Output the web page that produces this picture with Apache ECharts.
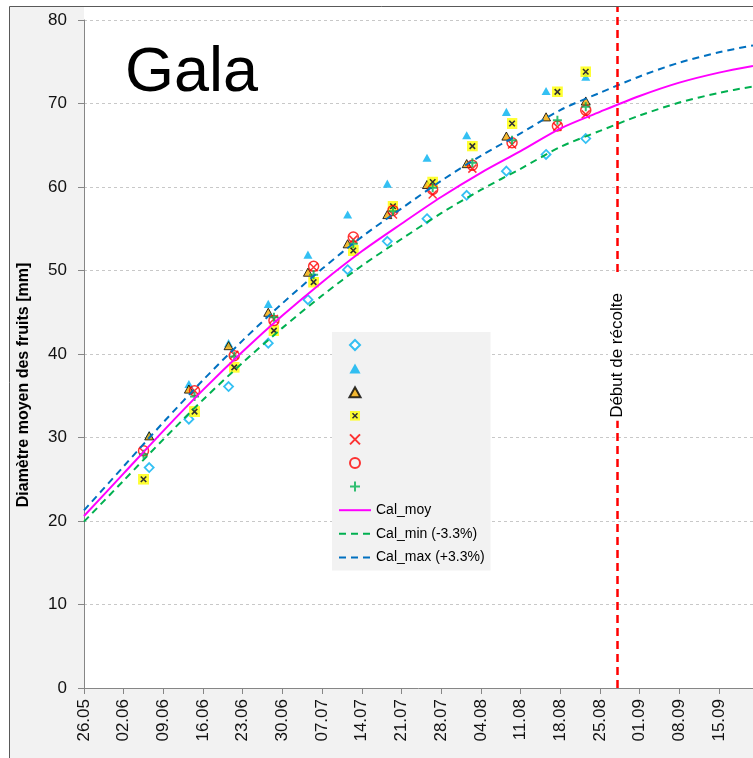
<!DOCTYPE html>
<html><head><meta charset="utf-8">
<script src="https://cdn.jsdelivr.net/npm/echarts@6/dist/echarts.min.js"></script>
<style>html,body{margin:0;padding:0;background:#fff}#c{width:753px;height:758px}</style>
</head><body><div id="c"></div>
<script>
// ---- data ----
const startDate = '26.05';
const axisEndDay = 118;           // 21.09
const harvestDate = '28.08';
const harvestLabel = 'Début de récolte';
const yAxisTitle = 'Diamètre moyen des fruits [mm]';
const chartTitle = 'Gala';

const datesA = ['06.06','13.06','20.06','27.06','04.07','11.07','18.07','25.07','01.08','08.08','15.08','22.08'];
const datesB = ['05.06','14.06','21.06','28.06','05.07','12.07','19.07','26.07','02.08','09.08','17.08','22.08'];

const s1 = [26.4, 32.2, 36.1, 41.3, 46.5, 50.1, 53.5, 56.2, 59.0, 61.9, 63.9, 65.8]; // cyan diamond (A)
const s2 = [30.3, 36.4, 41.3, 46.0, 51.9, 56.7, 60.4, 63.5, 66.2, 69.0, 71.5, 73.2]; // cyan triangle (A)
const s3 = [30.2, 35.8, 41.0, 45.0, 49.8, 53.2, 56.7, 60.3, 62.8, 66.1, 68.4, 70.3]; // orange triangle (A)
const s4 = [25.0, 33.1, 38.4, 42.8, 48.6, 52.4, 57.7, 60.6, 64.9, 67.6, 71.4, 73.8]; // yellow square x (B)
const s5 = [28.3, 35.6, 39.9, 44.2, 50.4, 53.7, 56.7, 59.1, 62.2, 65.1, 67.2, 68.7]; // red x (B)
const s6 = [28.4, 35.6, 39.8, 44.0, 50.5, 54.0, 57.2, 59.7, 62.6, 65.3, 67.3, 69.2]; // red circle (B)
const s7 = [28.0, 34.9, 39.7, 44.4, 49.5, 53.2, 57.1, 59.9, 62.9, 65.6, 68.0, 69.6]; // green plus (B)

const calDays = [0, 7, 14, 21, 28, 35, 42, 49, 56, 63, 70, 77, 84, 91, 98, 105, 112, 118];
const calMoy = [20.6, 25.7, 30.8, 35.7, 40.3, 44.6, 48.6, 52.3, 55.6, 58.8, 61.7, 64.3, 67.0, 69.0, 70.9, 72.5, 73.7, 74.5];
const calMin = [19.92, 24.85, 29.78, 34.52, 38.97, 43.13, 47.00, 50.57, 53.77, 56.86, 59.66, 62.18, 64.79, 66.72, 68.56, 70.11, 71.27, 72.04];
const calMax = [21.28, 26.55, 31.82, 36.88, 41.63, 46.07, 50.20, 54.03, 57.43, 60.74, 63.74, 66.42, 69.21, 71.28, 73.24, 74.89, 76.13, 76.96];

const lineNames = ['Cal_moy', 'Cal_min (-3.3%)', 'Cal_max (+3.3%)'];
const yTicks = [0, 80, 10];

// ---- helpers ----
const YEAR = 2021;
function toUTC(s){ const [d,m] = s.split('.').map(Number); return Date.UTC(YEAR, m-1, d); }
const t0 = toUTC(startDate);
function dayOf(s){ return Math.round((toUTC(s) - t0) / 86400000); }
function pad(n){ return (n < 10 ? '0' : '') + n; }
function dayLabel(v){ const dt = new Date(t0 + v*86400000); return pad(dt.getUTCDate()) + '.' + pad(dt.getUTCMonth()+1); }
// Excel date axis: points sit in the middle of their day
function pts(dates, vals){ return dates.map((d,i) => [dayOf(d) + 0.5, vals[i]]); }
function curve(vals){ return calDays.map((d,i) => [d, vals[i]]); }

const FONT = '"Liberation Sans", Arial, sans-serif';
const svgYellow = 'image://data:image/svg+xml;utf8,' + encodeURIComponent(
  '<svg xmlns="http://www.w3.org/2000/svg" width="24" height="24"><rect x="0" y="0" width="24" height="24" fill="#ffff00"/><path d="M6,6L18,18M18,6L6,18" stroke="#000" stroke-width="3.5"/></svg>');
const DIAMOND = 'path://M5,0L10,5L5,10L0,5Z';
const TRIANGLE = 'path://M5,0L10,9L0,9Z';

const scatterNames = ['p1','p2','p3','p4','p5','p6','p7'];
const scatterDefs = [
  {data: pts(datesA, s1), symbol: DIAMOND, size: 9, style: {color:'#ffffff', borderColor:'#00b0f0', borderWidth:1.8}},
  {data: pts(datesA, s2), symbol: TRIANGLE, size: 9, style: {color:'#00b0f0'}},
  {data: pts(datesA, s3), symbol: TRIANGLE, size: 9, style: {color:'#f2a900', borderColor:'#000', borderWidth:1}},
  {data: pts(datesB, s4), symbol: svgYellow, size: 11, style: {}},
  {data: pts(datesB, s5), symbol: 'path://M0,0L10,10M10,0L0,10', size: 8, style: {color:'rgba(0,0,0,0)', borderColor:'#ff0000', borderWidth:1.5}},
  {data: pts(datesB, s6), symbol: 'circle', size: 10, style: {color:'rgba(0,0,0,0)', borderColor:'#ff0000', borderWidth:1.5}},
  {data: pts(datesB, s7), symbol: 'path://M5,0L5,10M0,5L10,5', size: 9, style: {color:'rgba(0,0,0,0)', borderColor:'#00b050', borderWidth:2}}
];

const series = scatterDefs.map((d,i) => ({
  name: scatterNames[i], type: 'scatter', xAxisIndex: 0, yAxisIndex: 0,
  symbol: d.symbol, symbolSize: d.size, symbolKeepAspect: true, itemStyle: d.style, data: d.data, z: 3
}));
const lineColors = ['#ff00ff', '#00b050', '#0070c0'];
const lineData = [calMoy, calMin, calMax];
lineNames.forEach((n,i) => series.push({
  name: n, type: 'line', xAxisIndex: 0, yAxisIndex: 0, symbol: 'none', smooth: 0.3,
  lineStyle: {color: lineColors[i], width: 2, type: i === 0 ? 'solid' : [7,5]},
  itemStyle: {color: 'rgba(0,0,0,0)', borderColor: 'rgba(0,0,0,0)'},
  data: curve(lineData[i]), z: 4
}));
series.push({
  type: 'line', xAxisIndex: 1, yAxisIndex: 1, data: [], silent: true,
  markLine: {
    silent: true, symbol: 'none',
    lineStyle: {color: '#ff0000', width: 2.5, type: [8,5]},
    label: {show: true, position: 'middle', distance: -10, formatter: harvestLabel, color: '#000',
            fontFamily: FONT, fontSize: 17, backgroundColor: '#fff', padding: [1, 19, 1, 3]},
    data: [{xAxis: dayOf(harvestDate)}]
  }
});

const option = {
  animation: false,
  backgroundColor: '#ffffff',
  graphic: {elements: [{type: 'rect', z: -10, shape: {x: 9.5, y: 6.5, width: 900, height: 900},
                        style: {fill: '#f2f2f2', stroke: '#595959', lineWidth: 1}}]},
  title: {text: chartTitle, left: 120, top: 37,
          textStyle: {fontFamily: FONT, fontSize: 63, fontWeight: 'normal', color: '#000'}},
  grid: [
    {left: 84, right: 0, top: 20, bottom: 70, show: false},
    {left: 84, right: 0, top: 7, bottom: 70, show: true, backgroundColor: '#ffffff', borderWidth: 0}
  ],
  xAxis: [
    {type: 'value', gridIndex: 0, min: 0, max: axisEndDay, interval: 7,
     axisLine: {show: true, onZero: false, lineStyle: {color: '#868686', width: 1}},
     axisTick: {show: true, length: 6, lineStyle: {color: '#868686'}},
     splitLine: {show: false},
     axisLabel: {rotate: 90, margin: 11, fontFamily: FONT, fontSize: 17, color: '#111',
                 showMaxLabel: false, formatter: v => (v % 7 === 0 ? dayLabel(v) : '')}},
    {type: 'value', gridIndex: 1, min: 0, max: axisEndDay, show: false}
  ],
  yAxis: [
    {type: 'value', gridIndex: 0, min: yTicks[0], max: yTicks[1], interval: yTicks[2],
     name: yAxisTitle, nameLocation: 'middle', nameGap: 52, nameRotate: 90,
     nameTextStyle: {fontFamily: FONT, fontSize: 16, fontWeight: 'bold', color: '#000', padding: [0, 62, 0, 0]},
     axisLine: {show: true, lineStyle: {color: '#868686', width: 1}},
     axisTick: {show: true, length: 6, lineStyle: {color: '#868686'}},
     splitLine: {show: true, lineStyle: {color: '#c8c8c8', width: 1, type: [3,3]}},
     axisLabel: {margin: 17, fontFamily: FONT, fontSize: 17, color: '#111'}},
    {type: 'value', gridIndex: 1, min: 0, max: 1, show: false}
  ],
  legend: {
    orient: 'vertical', left: 332, top: 332, padding: [6, 6, 6, 6],
    itemWidth: 32, itemHeight: 10, itemGap: 9.6, symbolKeepAspect: true,
    backgroundColor: '#f2f2f2',
    textStyle: {fontFamily: FONT, fontSize: 14, color: '#000', lineHeight: 14},
    formatter: n => (scatterNames.includes(n) ? ' ' : n),
    data: scatterNames.concat(lineNames)
  },
  series: series
};
const chart = echarts.init(document.getElementById('c'), null, {renderer: 'canvas'});
chart.setOption(option);
</script></body></html>
